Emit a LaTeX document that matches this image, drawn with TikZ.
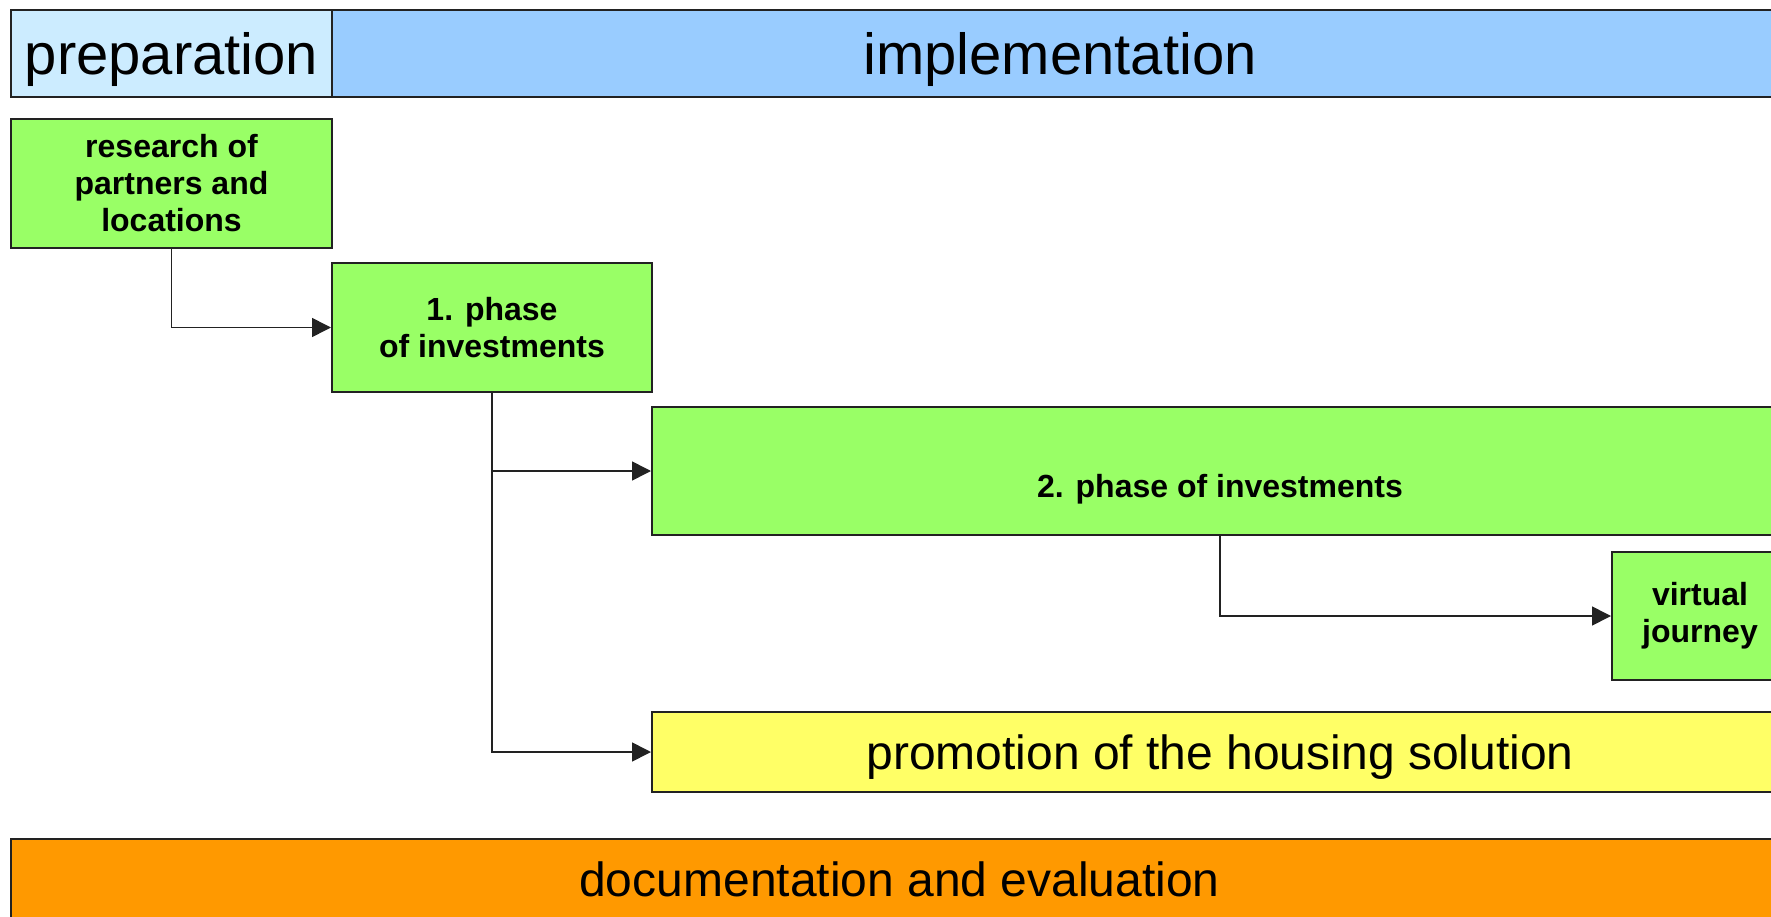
\documentclass[tikz,border=0pt]{standalone}
\usepackage{fontspec}
\setmainfont{Liberation Sans}
\usetikzlibrary{arrows.meta}
\definecolor{boxline}{HTML}{222222}
\definecolor{prepblue}{HTML}{CCECFF}
\definecolor{implblue}{HTML}{99CCFF}
\definecolor{phasegreen}{HTML}{99FF66}
\definecolor{promoyellow}{HTML}{FFFF66}
\definecolor{docorange}{HTML}{FF9900}
\tikzset{
  stagebox/.style={draw=boxline, line width=2pt, inner sep=0pt,
    text depth=0pt, font=\fontsize{58}{66}\selectfont},
  phasebox/.style={draw=boxline, line width=2pt, inner sep=0pt, fill=phasegreen,
    align=center, font=\fontsize{32}{37}\selectfont\bfseries},
  widebox/.style={draw=boxline, line width=2pt, inner sep=0pt,
    text depth=0pt, font=\fontsize{48}{54}\selectfont},
  link/.style={draw=boxline, line width=1.6pt, -{Triangle[length=19pt,width=19pt]}}
}

\begin{document}
\begin{tikzpicture}[x=1pt, y=-1pt]
  \useasboundingbox (0,0) rectangle (1771,917);
  \clip (0,0) rectangle (1771,917);
  % header
  \node[stagebox, fill=prepblue, minimum width=321pt, minimum height=87pt] (prep) at (171.5,53.5) {preparation};
  \node[stagebox, fill=implblue, minimum width=1456pt, minimum height=87pt] (impl) at (1060,53.5) {implementation};
  % phases
  \node[phasebox, minimum width=321pt, minimum height=129pt] (research) at (171.5,183.5) {research of\\partners and\\locations};
  \node[phasebox, minimum width=320pt, minimum height=129pt] (ph1) at (492,327.5) {1. phase\\of investments};
  \node[phasebox, text height=52pt, text depth=0pt, minimum width=1136pt, minimum height=128pt] (ph2) at (1220,471) {2. phase of investments};
  \node[phasebox, minimum width=176pt, minimum height=128pt] (virtual) at (1700,616) {virtual\\journey};
  \node[widebox, fill=promoyellow, minimum width=1136pt, minimum height=80pt] (promo) at (1220,752) {promotion of the housing solution};
  \node[widebox, fill=docorange, minimum width=1777pt, minimum height=81pt] (doc) at (899.5,879.5) {documentation and evaluation};
  % connectors
  \draw[link] (research.south) |- (ph1.west);
  \draw[link] (ph1.south) |- (ph2.west);
  \draw[link] (ph1.south) |- (promo.west);
  \draw[link] (ph2.south) |- (virtual.west);
\end{tikzpicture}
\end{document}
